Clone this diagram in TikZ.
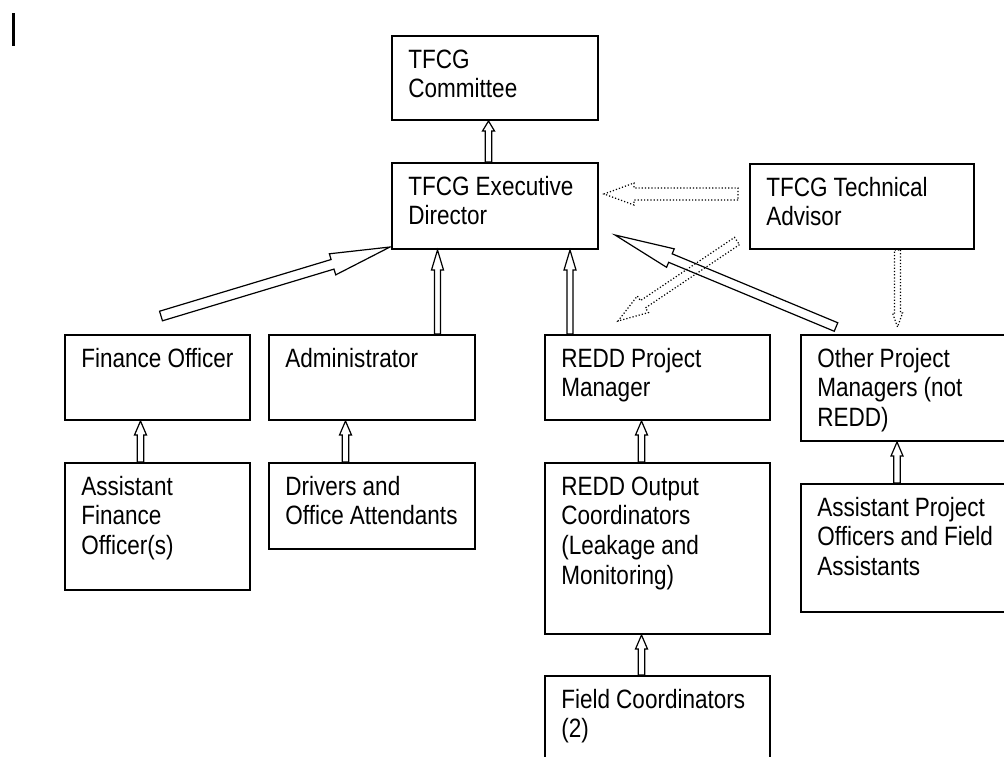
\documentclass[tikz,border=0pt]{standalone}
\usepackage{fontspec}
\newfontfamily\orgfont{Liberation Sans}[FakeStretch=0.85]
\usetikzlibrary{calc}
\tikzset{
  shaft/.store in=\shaftw, head/.store in=\headw, headlen/.store in=\headl,
  shaft=1.6pt, head=3pt, headlen=7pt,
  box/.style={draw, line width=1pt, anchor=north west, inner sep=0pt},
  txt/.style={anchor=base west, inner sep=0pt, text width=110pt, align=left,
    font=\orgfont\fontsize{13.25}{14.85}\selectfont,
    execute at begin node={\spaceskip=3pt\relax}},
  blk/.style={line width=.6pt, to path={let \p1=(\tikztostart), \p2=(\tikztotarget),
    \n1={atan2(\y2-\y1,\x2-\x1)}, \n2={veclen(\x2-\x1,\y2-\y1)} in
    ($(\p1)+({\n1+90}:\shaftw)$) -- ++({\n1}:{\n2-\headl}) -- ++({\n1+90}:{\headw-\shaftw})
    -- (\p2) -- ($(\p2)+({\n1+180}:\headl)+({\n1-90}:\headw)$)
    -- ++({\n1+90}:{\headw-\shaftw}) -- ++({\n1+180}:{\n2-\headl}) -- cycle}},
  dotblk/.style={blk, dash pattern=on .6pt off 1pt}
}
\begin{document}
\begin{tikzpicture}[x=.5pt, y=-.5pt]
\clip (0,0) rectangle (1004,756);
\draw[line width=1.5pt] (13,13) -- (13,46);

\node[box, minimum width=103pt, minimum height=42pt] (cmte) at (391,35) {};
\node[txt] (cmtetxt) at ([shift={(17,33)}]cmte.north west) {TFCG\\Committee};
\node[box, minimum width=103pt, minimum height=43pt] (exec) at (391,162) {};
\node[txt] (exectxt) at ([shift={(17,33)}]exec.north west) {TFCG Executive\\Director};
\node[box, minimum width=112pt, minimum height=42.5pt] (adv) at (749,163) {};
\node[txt] (advtxt) at ([shift={(17,33)}]adv.north west) {TFCG Technical\\Advisor};

\node[box, minimum width=92.5pt, minimum height=42.5pt] (fin) at (64,334) {};
\node[txt] (fintxt) at ([shift={(17,33)}]fin.north west) {Finance Officer};
\node[box, minimum width=103pt, minimum height=42.5pt] (admin) at (268,334) {};
\node[txt] (admintxt) at ([shift={(17,33)}]admin.north west) {Administrator};
\node[box, minimum width=112.5pt, minimum height=42.5pt] (redd) at (544,334) {};
\node[txt] (reddtxt) at ([shift={(17,33)}]redd.north west) {REDD Project\\Manager};
\node[box, minimum width=110pt, minimum height=53pt] (other) at (800,334) {};
\node[txt] (othertxt) at ([shift={(17,33)}]other.north west) {Other Project\\Managers (not\\REDD)};

\node[box, minimum width=92.5pt, minimum height=63.5pt] (asfin) at (64,462) {};
\node[txt] (asfintxt) at ([shift={(17,33)}]asfin.north west) {Assistant\\Finance\\Officer(s)};
\node[box, minimum width=103pt, minimum height=43pt] (drv) at (268,462) {};
\node[txt] (drvtxt) at ([shift={(17,33)}]drv.north west) {Drivers and\\Office Attendants};
\node[box, minimum width=112.5pt, minimum height=85.5pt] (outc) at (544,462) {};
\node[txt] (outctxt) at ([shift={(17,33)}]outc.north west) {REDD Output\\Coordinators\\(Leakage and\\Monitoring)};
\node[box, minimum width=110pt, minimum height=64pt] (apo) at (800,483) {};
\node[txt] (apotxt) at ([shift={(17,33)}]apo.north west) {Assistant Project\\Officers and Field\\Assistants};
\node[box, minimum width=112.5pt, minimum height=50pt] (fcoo) at (544,675) {};
\node[txt] (fcootxt) at ([shift={(17,33)}]fcoo.north west) {Field Coordinators\\(2)};

\draw[blk, headlen=5pt] ([shift={(97.5,0)}]exec.north west) to ([shift={(97.5,0)}]cmte.south west);
\draw[blk, shaft=2.5pt, head=5.5pt, headlen=30pt] ([shift={(97,-18)}]fin.north west) to ([shift={(-1,-3)}]exec.south west);
\draw[blk, shaft=1.5pt, headlen=10pt] ([shift={(169.5,0)}]admin.north west) to ([shift={(46.5,0)}]exec.south west);
\draw[blk, shaft=1.5pt, headlen=10pt] ([shift={(26,0)}]redd.north west) to ([shift={(179,0)}]exec.south west);
\draw[blk, shaft=2.3pt, head=5pt, headlen=30pt] ([shift={(36,-7)}]other.north west) to ([shift={(16,-15)}]exec.south east);
\draw[blk] ([shift={(76.5,0)}]asfin.north west) to ([shift={(76.5,0)}]fin.south west);
\draw[blk] ([shift={(77.5,0)}]drv.north west) to ([shift={(77.5,0)}]admin.south west);
\draw[blk] ([shift={(97.5,0)}]outc.north west) to ([shift={(97.5,0)}]redd.south west);
\draw[blk] ([shift={(97,0)}]apo.north west) to ([shift={(97,0)}]other.south west);
\draw[blk] ([shift={(97.5,0)}]fcoo.north west) to ([shift={(97.5,0)}]outc.south west);

\draw[dotblk, shaft=3pt, head=5.5pt, headlen=15pt] ([shift={(-11,31)}]adv.north west) to ([shift={(5,32)}]exec.north east);
\draw[dotblk, shaft=1.5pt, head=2.5pt, headlen=7pt] ([shift={(148.5,0)}]adv.south west) to ([shift={(97.5,-7)}]other.north west);
\draw[dotblk, shaft=2.2pt, head=5pt, headlen=15pt] ([shift={(-12,-9)}]adv.south west) to ([shift={(74,-13)}]redd.north west);
\end{tikzpicture}
\end{document}
